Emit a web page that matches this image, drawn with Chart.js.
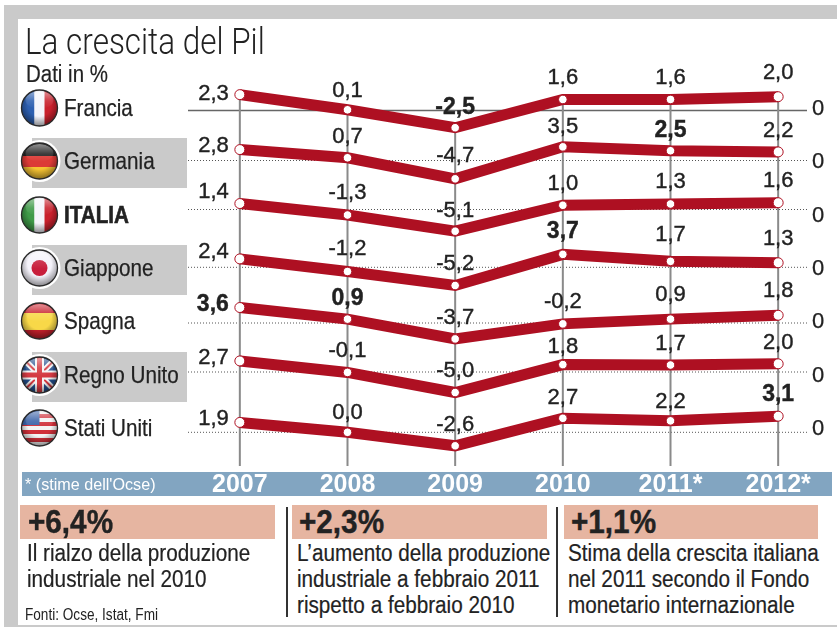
<!DOCTYPE html>
<html>
<head>
<meta charset="utf-8">
<script src="https://cdn.jsdelivr.net/npm/chart.js@4"></script>
<style>
html, body { margin: 0; padding: 0; background: #fff; }
body { width: 837px; height: 627px; overflow: hidden; position: relative; font-family: "Liberation Sans", sans-serif; color: #222; }
.a { position: absolute; white-space: nowrap; transform-origin: left top; }
canvas { position: absolute; left: 0; top: 0; }
svg { position: absolute; left: 0; top: 0; }
.corpo { font-size: 23px; line-height: 26px; top: 540px; transform: scaleX(.9); -webkit-text-stroke: .2px #222; }
.perc { font-size: 33px; font-weight: bold; top: 503px; transform: scaleX(.9); -webkit-text-stroke: .4px #222; }
</style>
</head>
<body>
<div class="a" style="left:4px;top:5px;width:833px;height:622px;background:#cacaca"></div>
<div class="a" style="left:18px;top:19px;width:819px;height:606px;background:#fff"></div>
<div class="a" style="left:32px;top:138px;width:155px;height:50px;background:#cacaca"></div>
<div class="a" style="left:32px;top:245px;width:155px;height:50px;background:#cacaca"></div>
<div class="a" style="left:32px;top:352px;width:155px;height:50px;background:#cacaca"></div>
<div class="a" style="left:22px;top:472px;width:810px;height:24px;background:#82a5c1"></div>
<div class="a" style="left:20px;top:505px;width:255px;height:34px;background:#e6b5a1"></div>
<div class="a" style="left:292px;top:505px;width:255px;height:34px;background:#e6b5a1"></div>
<div class="a" style="left:564px;top:505px;width:254px;height:34px;background:#e6b5a1"></div>
<div class="a" style="left:286px;top:507px;width:2px;height:110px;background:#333"></div>
<div class="a" style="left:556px;top:507px;width:2px;height:110px;background:#333"></div>

<canvas id="pil" width="837" height="500"></canvas>

<div class="a" style="left:25px;top:20px;font:300 37px Roboto;transform:scaleX(.85)">La crescita del Pil</div>
<div class="a" style="left:26px;top:61px;font-size:23px;transform:scaleX(.89);-webkit-text-stroke:.2px #222">Dati in %</div>
<div class="a" style="left:25px;top:475px;font-size:17px;color:#fff;transform:scaleX(.95)">* (stime dell'Ocse)</div>

<div class="a perc" style="left:28px">+6,4%</div>
<div class="a perc" style="left:299px">+2,3%</div>
<div class="a perc" style="left:571px">+1,1%</div>

<div class="a corpo" style="left:27px">Il rialzo della produzione<br>industriale nel 2010</div>
<div class="a corpo" style="left:297px">L’aumento della produzione<br>industriale a febbraio 2011<br>rispetto a febbraio 2010</div>
<div class="a corpo" style="left:568px">Stima della crescita italiana<br>nel 2011 secondo il Fondo<br>monetario internazionale</div>
<div class="a" style="left:25px;top:606px;font-size:16px;transform:scaleX(.85)">Fonti: Ocse, Istat, Fmi</div>

<svg id="flags" width="837" height="627" xmlns="http://www.w3.org/2000/svg">
  <defs>
    <radialGradient id="gloss" cx="50%" cy="40%" r="60%">
      <stop offset="55%" stop-color="#000" stop-opacity="0"/>
      <stop offset="100%" stop-color="#000" stop-opacity=".45"/>
    </radialGradient>
    <linearGradient id="shine" x1="0" y1="0" x2="0" y2="1">
      <stop offset="0%" stop-color="#fff" stop-opacity=".5"/>
      <stop offset="55%" stop-color="#fff" stop-opacity=".12"/>
      <stop offset="100%" stop-color="#fff" stop-opacity="0"/>
    </linearGradient>
    <clipPath id="disc"><circle r="18"/></clipPath>
  </defs>
</svg>

<script>
// dati
const anni = ['2007', '2008', '2009', '2010', '2011*', '2012*'];
const paesi = ['Francia', 'Germania', 'ITALIA', 'Giappone', 'Spagna', 'Regno Unito', 'Stati Uniti'];
const francia = [2.3, 0.1, -2.5, 1.6, 1.6, 2.0];
const germania = [2.8, 0.7, -4.7, 3.5, 2.5, 2.2];
const italia = [1.4, -1.3, -5.1, 1.0, 1.3, 1.6];
const giappone = [2.4, -1.2, -5.2, 3.7, 1.7, 1.3];
const spagna = [3.6, 0.9, -3.7, -0.2, 0.9, 1.8];
const regnoUnito = [2.7, -0.1, -5.0, 1.8, 1.7, 2.0];
const statiUniti = [1.9, 0.0, -2.6, 2.7, 2.2, 3.1];
const serie = [francia, germania, italia, giappone, spagna, regnoUnito, statiUniti];
// valori in grassetto: [indice paese, indice anno]
const grassetti = [[0, 2], [1, 4], [3, 3], [4, 0], [4, 1], [6, 5]];

// ogni riga ha un suo asse: dove cade lo zero e quanti px per punto
const zeroPx = [110.5, 160.5, 209.5, 267.3, 323, 372, 432.3];
const pxPerUnita = [6.9, 3.9, 4.25, 3.5, 4.3, 4.1, 5.2];
const rigaPx = [108, 161, 215, 268, 321, 375, 428];
const ALTO = 0, BASSO = 466;
// quanto sta sopra il punto ogni etichetta, in px
const stacchi = [
    [1, 19, 20, 21.5, 21.5, 23.5],
    [3.5, 21, 23, 20, 20.5, 21],
    [11.5, 22, 20, 21.5, 22, 21.5],
    [7, 23, 22, 22.5, 26.5, 24],
    [3, 20, 21, 22, 24, 24],
    [3, 21.5, 21.5, 17.5, 21.5, 21],
    [3, 19, 20.5, 20.5, 19, 22]
];

const ROSSO = '#ae1022';
const FONT = '"Liberation Sans", sans-serif';

const scales = {
    x: {
        offset: true,
        grid: { display: false, drawTicks: false },
        border: { display: false },
        ticks: { color: '#fff', font: { family: FONT, size: 25, weight: 'bold' }, padding: 4, maxRotation: 0, autoSkip: false },
        afterFit: s => { s.height = 34; }
    }
};
serie.forEach((v, i) => {
    scales['y' + i] = {
        display: false,
        min: -(BASSO - zeroPx[i]) / pxPerUnita[i],
        max: (zeroPx[i] - ALTO) / pxPerUnita[i]
    };
});

const griglia = {
    id: 'griglia',
    beforeDatasetsDraw(chart) {
        const c = chart.ctx, x = chart.scales.x;
        c.save();
        // linee dello zero
        serie.forEach((v, i) => {
            const y = chart.scales['y' + i].getPixelForValue(0);
            c.beginPath();
            c.moveTo(188, y);
            c.lineTo(807, y);
            if (i === 0) {
                c.strokeStyle = '#666';
                c.lineWidth = 1.5;
                c.setLineDash([]);
            } else {
                c.strokeStyle = '#555';
                c.lineWidth = 1;
                c.setLineDash([1, 2]);
            }
            c.stroke();
        });
        // verticali degli anni, dalla riga Francia in giu
        c.setLineDash([]);
        c.strokeStyle = '#8a8a8a';
        c.lineWidth = 2;
        anni.forEach((a, k) => {
            const px = x.getPixelForValue(k);
            c.beginPath();
            c.moveTo(px, chart.scales.y0.getPixelForValue(francia[k]));
            c.lineTo(px, BASSO);
            c.stroke();
        });
        c.restore();
    }
};

const etichette = {
    id: 'etichette',
    afterDatasetsDraw(chart) {
        const c = chart.ctx;
        c.save();
        c.textBaseline = 'middle';
        c.fillStyle = '#222';
        c.strokeStyle = '#222';
        c.lineWidth = 0.4;
        serie.forEach((v, i) => {
            const pts = chart.getDatasetMeta(i).data;
            v.forEach((val, k) => {
                const bold = grassetti.some(g => g[0] === i && g[1] === k);
                c.font = (bold ? 'bold 23px ' : '22px ') + FONT;
                const testo = val.toFixed(1).replace('.', ',');
                c.textAlign = k === 0 ? 'right' : 'center';
                const tx = k === 0 ? pts[k].x - 11 : pts[k].x;
                const ty = pts[k].y - stacchi[i][k];
                c.fillText(testo, tx, ty);
                c.strokeText(testo, tx, ty);
            });
        });
        c.restore();
    }
};

new Chart(document.getElementById('pil'), {
    type: 'line',
    data: {
        labels: anni,
        datasets: serie.map((v, i) => ({
            label: paesi[i],
            data: v,
            yAxisID: 'y' + i,
            borderColor: ROSSO,
            borderWidth: 11,
            tension: 0,
            pointBackgroundColor: '#fff',
            pointBorderColor: ROSSO,
            pointBorderWidth: 1,
            pointRadius: v.map((_, k) => (k === 0 || k === v.length - 1) ? 5 : 4.3)
        }))
    },
    options: {
        responsive: false,
        animation: false,
        layout: { autoPadding: false, padding: { left: 186, right: 5, top: 0, bottom: 0 } },
        plugins: { legend: { display: false }, tooltip: { enabled: false } },
        scales: scales
    },
    plugins: [griglia, etichette]
});

// nomi dei paesi e zeri a destra
paesi.forEach((p, i) => {
    const d = document.createElement('div');
    d.className = 'a';
    d.textContent = p;
    d.style.cssText = 'left:64px;top:' + (rigaPx[i] - 14) + 'px;font-size:24px;line-height:28px;transform:scaleX(.86);'
        + (p === 'ITALIA' ? 'font-weight:bold;-webkit-text-stroke:.6px #222;' : '-webkit-text-stroke:.25px #222;');
    document.body.appendChild(d);
    const z = document.createElement('div');
    z.className = 'a';
    z.textContent = '0';
    z.style.cssText = 'left:812px;top:' + (rigaPx[i] - 14) + 'px;font-size:22px;line-height:28px;-webkit-text-stroke:.25px #222;';
    document.body.appendChild(z);
});

// bandierine
const bandiere = [
    '<rect x="-18" y="-18" width="13" height="36" fill="#2d5fb0"/><rect x="-5" y="-18" width="10" height="36" fill="#f4f4fa"/><rect x="5" y="-18" width="13" height="36" fill="#c8202c"/>',
    '<rect x="-18" y="-18" width="36" height="13" fill="#222"/><rect x="-18" y="-5" width="36" height="11" fill="#dc3a36"/><rect x="-18" y="6" width="36" height="12" fill="#f6c332"/>',
    '<rect x="-18" y="-18" width="13" height="36" fill="#3f9a48"/><rect x="-5" y="-18" width="10" height="36" fill="#f4f4fa"/><rect x="5" y="-18" width="13" height="36" fill="#c8202c"/>',
    '<rect x="-18" y="-18" width="36" height="36" fill="#f4f2fa"/><circle r="8" fill="#c81e3c"/>',
    '<rect x="-18" y="-18" width="36" height="10" fill="#c8202c"/><rect x="-18" y="-8" width="36" height="17" fill="#f8d848"/><rect x="-18" y="9" width="36" height="9" fill="#c8202c"/>',
    '<rect x="-18" y="-18" width="36" height="36" fill="#23508f"/><path d="M-18-18L18 18M18-18L-18 18" stroke="#f4f4f4" stroke-width="6"/><path d="M-18-18L18 18M18-18L-18 18" stroke="#d43a42" stroke-width="2"/><path d="M0-18V18M-18 0H18" stroke="#f4f4f4" stroke-width="9"/><path d="M0-18V18M-18 0H18" stroke="#d43a42" stroke-width="5"/>',
    '<rect x="-18" y="-18" width="36" height="36" fill="#f4f4f4"/><path d="M-18-12H18M-18-4H18M-18 4H18M-18 12H18" stroke="#d0303a" stroke-width="4"/><rect x="-18" y="-18" width="18" height="15" fill="#3a62a8"/>'
];
const cerchiBianchi = [false, true, false, true, false, true, false];
let svgHtml = '';
bandiere.forEach((b, i) => {
    svgHtml += '<g transform="translate(39.5 ' + rigaPx[i] + ')">'
        + (cerchiBianchi[i] ? '<circle r="21" fill="#fff"/>' : '')
        + '<g clip-path="url(#disc)">' + b + '<circle r="18" fill="url(#gloss)"/><ellipse cy="-8" rx="14" ry="9" fill="url(#shine)"/></g>'
        + '<circle r="18" fill="none" stroke="#2a2a2a" stroke-width="1.3"/></g>';
});
const svg = document.getElementById('flags');
svg.insertAdjacentHTML('beforeend', svgHtml);
</script>
</body>
</html>
